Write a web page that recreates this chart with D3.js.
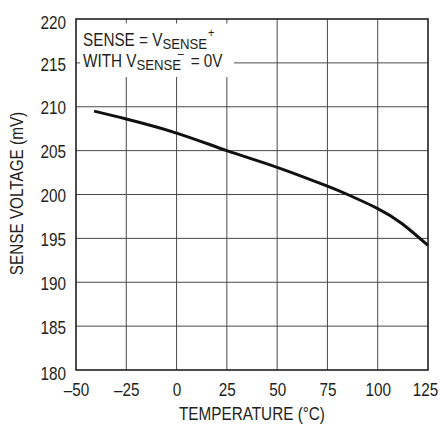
<!DOCTYPE html>
<html>
<head>
<meta charset="utf-8">
<script src="https://cdn.jsdelivr.net/npm/d3@7"></script>
<style>
  html, body { margin: 0; padding: 0; background: #fff; }
  svg text { font-family: "Liberation Sans", Arial, Helvetica, sans-serif; fill: #231f20; }
</style>
</head>
<body>
<svg id="chart" width="440" height="424"></svg>
<script>
// Sense voltage vs. temperature
const temperature = [-41, -25, 0, 25, 50, 75, 85, 100, 112, 125];
const senseVoltage = [209.5, 208.6, 207.0, 205.0, 203.1, 200.95, 200.0, 198.4, 196.7, 194.2];

const xTicks = [-50, -25, 0, 25, 50, 75, 100, 125];
const xTickLabels = ["–50", "–25", "0", "25", "50", "75", "100", "125"];
const yTicks = [180, 185, 190, 195, 200, 205, 210, 215, 220];
const yTickLabels = ["180", "185", "190", "195", "200", "205", "210", "215", "220"];

const xTitle = "TEMPERATURE (°C)";
const yTitle = "SENSE VOLTAGE (mV)";

const svg = d3.select("#chart");
const plot = { left: 76, right: 428, top: 19, bottom: 370 };

const x = d3.scaleLinear().domain([-50, 125]).range([plot.left, plot.right]);
const y = d3.scaleLinear().domain([180, 220]).range([plot.bottom, plot.top]);

const fontSize = 18;
const squeeze = 0.85; // condensed lettering

// grid
const grid = svg.append("g").attr("stroke", "#4a4a4a").attr("stroke-width", 1);
grid.selectAll("line.v").data(xTicks.slice(1, -1)).join("line")
  .attr("x1", d => x(d)).attr("x2", d => x(d))
  .attr("y1", plot.top).attr("y2", plot.bottom);
grid.selectAll("line.h").data(yTicks.slice(1, -1)).join("line")
  .attr("x1", plot.left).attr("x2", plot.right)
  .attr("y1", d => y(d)).attr("y2", d => y(d));

// annotation box masks the grid behind the text
svg.append("rect")
  .attr("x", 80).attr("y", 23.5).attr("width", 154).attr("height", 53.5)
  .attr("fill", "#fff");

const note = svg.append("g")
  .attr("transform", `translate(83,0) scale(${squeeze},1)`)
  .attr("font-size", fontSize);
const l1 = note.append("text").attr("x", 0).attr("y", 46);
l1.append("tspan").text("SENSE = V");
l1.append("tspan").attr("font-size", 15.5).attr("dy", 3.5).text("SENSE");
l1.append("tspan").attr("font-size", 13).attr("dx", 1).attr("dy", -12).text("+");
const l2 = note.append("text").attr("x", 0).attr("y", 67);
l2.append("tspan").text("WITH V");
l2.append("tspan").attr("font-size", 15.5).attr("dy", 3.5).text("SENSE");
l2.append("tspan").attr("font-size", 13).attr("dx", -4).attr("dy", -12).text("–");
l2.append("tspan").attr("dx", 3).attr("dy", 8.5).text(" = 0V");

// data curve
const line = d3.line()
  .x((d, i) => x(temperature[i]))
  .y(d => y(d))
  .curve(d3.curveNatural);
svg.append("path")
  .attr("d", line(senseVoltage))
  .attr("fill", "none")
  .attr("stroke", "#111")
  .attr("stroke-width", 3);

// frame
svg.append("rect")
  .attr("x", plot.left).attr("y", plot.top)
  .attr("width", plot.right - plot.left).attr("height", plot.bottom - plot.top)
  .attr("fill", "none").attr("stroke", "#231f20").attr("stroke-width", 1.6);

// axes labels
const xAxis = d3.axisBottom(x).tickValues(xTicks)
  .tickFormat((d, i) => xTickLabels[i]).tickSize(0).tickPadding(13);
svg.append("g").attr("transform", `translate(0,${plot.bottom})`).call(xAxis)
  .call(g => g.select(".domain").remove())
  .selectAll("text")
  .attr("font-size", fontSize).attr("font-family", null).attr("fill", null)
  .attr("x", d => (d === 125 ? -3 : 0) / squeeze)
  .attr("transform", `scale(${squeeze},1)`);

const yPad = 10;
const yAxis = d3.axisLeft(y).tickValues(yTicks)
  .tickFormat((d, i) => yTickLabels[i]).tickSize(0).tickPadding(yPad);
svg.append("g").attr("transform", `translate(${plot.left},0)`).call(yAxis)
  .call(g => g.select(".domain").remove())
  .selectAll("text")
  .attr("font-size", fontSize).attr("font-family", null).attr("fill", null)
  .attr("x", -yPad / squeeze)
  .attr("dy", d => (d === 220 ? "0.55em" : d === 180 ? "0.5em" : "0.4em"))
  .attr("transform", `scale(${squeeze},1)`);

svg.append("text")
  .attr("transform", `translate(${(plot.left + plot.right) / 2},420) scale(${squeeze},1)`)
  .attr("text-anchor", "middle").attr("font-size", fontSize)
  .text(xTitle);

svg.append("text")
  .attr("transform", `translate(23,${(plot.top + plot.bottom) / 2 - 1}) rotate(-90) scale(${squeeze},1)`)
  .attr("text-anchor", "middle").attr("font-size", fontSize)
  .text(yTitle);
</script>
</body>
</html>
